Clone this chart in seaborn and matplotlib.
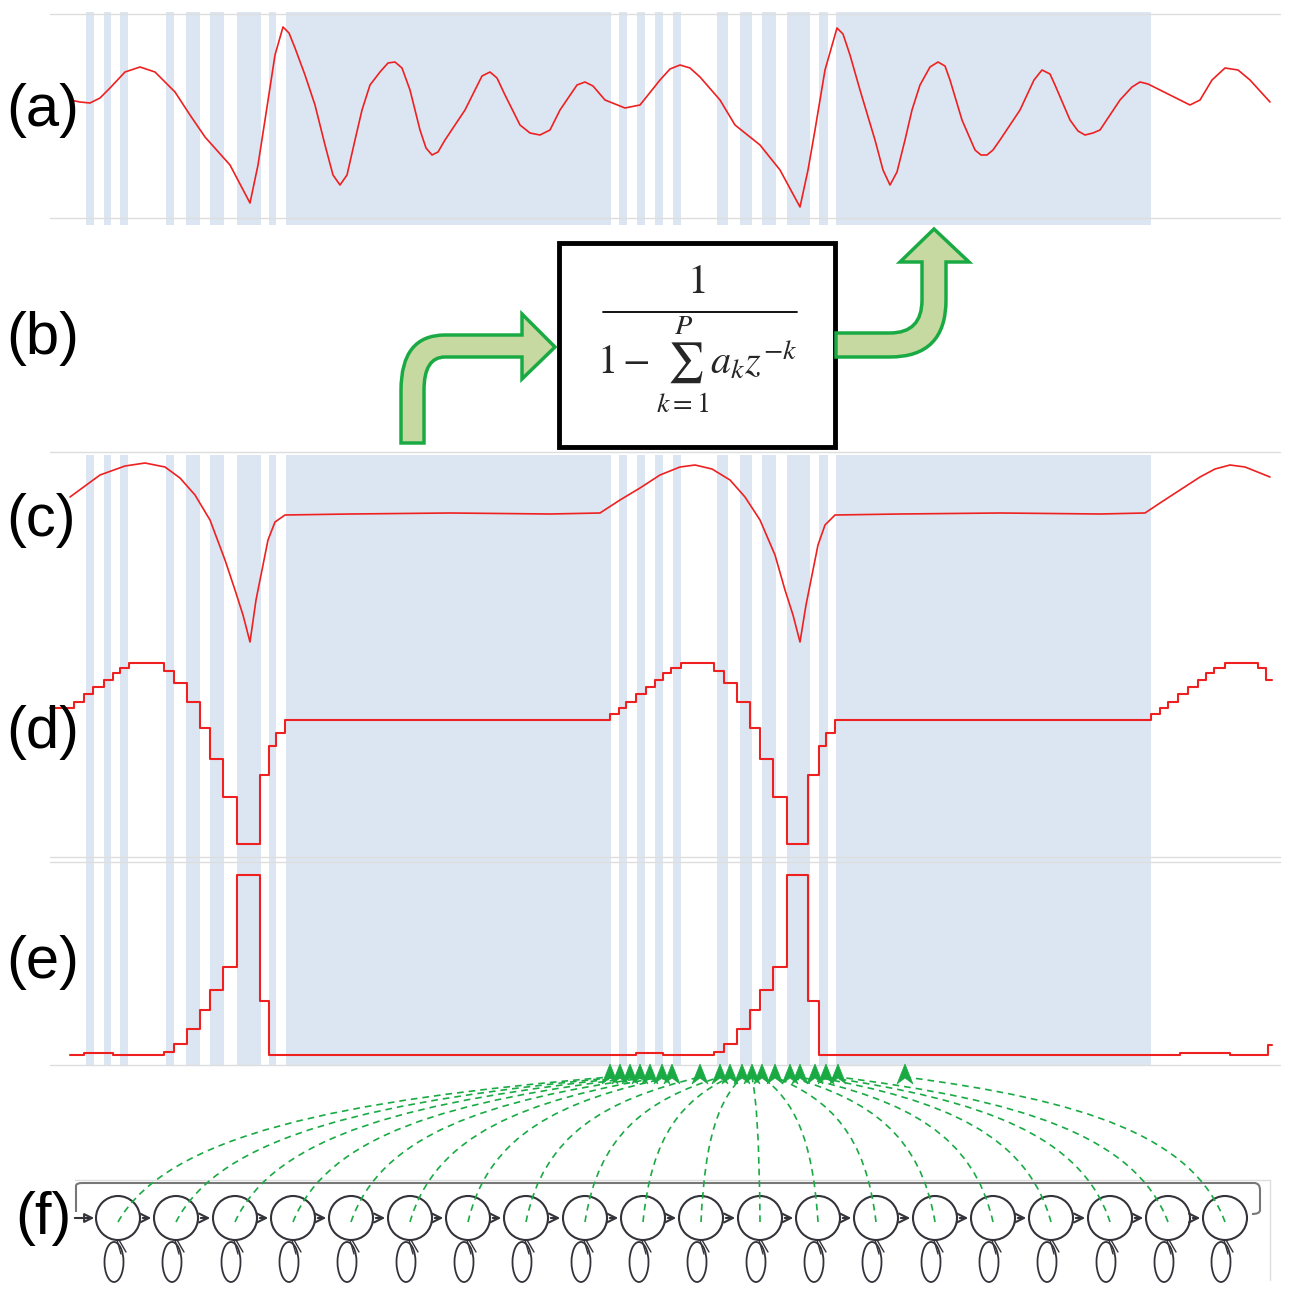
import numpy as np
import pandas as pd
import matplotlib
matplotlib.use("Agg")
import matplotlib.pyplot as plt
import seaborn as sns
from matplotlib.path import Path
from matplotlib.patches import PathPatch, Circle, Ellipse, Polygon, Rectangle

sns.set_theme(style="white")
plt.rcParams['font.family'] = ['Liberation Sans', 'DejaVu Sans']
plt.rcParams['mathtext.fontset'] = 'stix'

# everything below in pixel units (x right, y down)
band_x0 = [86, 104, 120, 166, 186, 210, 237, 269, 286, 619, 637, 655, 673, 717, 740, 762, 787, 819, 836]
band_x1 = [94, 111, 128, 174, 200, 224, 261, 276, 611, 627, 645, 663, 681, 728, 752, 776, 810, 828, 1151]

# (a) speech signal
sig_x = [70, 80, 90, 100, 110, 125, 140, 155, 175, 190, 205, 230, 250, 258, 265, 275, 283, 289, 295,
         305, 315, 325, 333, 340, 347, 355, 362, 370, 380, 388, 395, 402, 410, 420, 426, 432, 438,
         445, 465, 482, 490, 497, 505, 520, 530, 540, 550, 560, 577, 585, 593, 605, 625, 640, 660,
         670, 680, 690, 700, 720, 735, 760, 780, 800, 808, 815, 825, 837, 843, 850, 860, 875, 883,
         890, 897, 905, 912, 920, 930, 938, 945, 950, 962, 975, 981, 987, 993, 1000, 1020, 1034,
         1042, 1050, 1055, 1070, 1078, 1085, 1093, 1100, 1120, 1132, 1140, 1148, 1160, 1190, 1200,
         1212, 1225, 1238, 1250, 1270]
sig_y = [100, 102, 103, 98, 88, 72, 67, 72, 92, 115, 137, 165, 203, 165, 120, 55, 27, 33, 48,
         75, 105, 145, 175, 185, 175, 140, 110, 85, 72, 63, 62, 68, 90, 130, 148, 155, 152,
         140, 110, 76, 72, 78, 95, 125, 133, 135, 130, 110, 85, 82, 86, 100, 108, 105, 80,
         69, 65, 68, 77, 100, 125, 145, 170, 207, 170, 130, 70, 28, 34, 55, 90, 140, 170,
         185, 172, 140, 110, 85, 67, 62, 66, 80, 120, 150, 155, 155, 150, 140, 110, 80,
         70, 74, 85, 120, 131, 135, 133, 130, 100, 87, 82, 84, 90, 105, 100,
         80, 68, 70, 80, 102]

# (c) smoothed envelope
env_x = [70, 100, 125, 145, 165, 180, 195, 210, 225, 235, 243, 250, 256, 262, 268, 275, 285, 350,
         450, 550, 600, 620, 640, 660, 680, 695, 712, 730, 745, 760, 775, 785, 793, 800, 806, 812,
         818, 825, 835, 900, 1000, 1100, 1145, 1160, 1180, 1200, 1215, 1230, 1245, 1270]
env_y = [497, 475, 466, 463, 467, 478, 495, 520, 560, 590, 615, 642, 600, 570, 540, 522, 515, 514,
         513, 514, 513, 500, 488, 475, 467, 465, 469, 480, 497, 520, 555, 590, 615, 642, 605, 575,
         545, 525, 515, 514, 513, 514, 513, 503, 490, 477, 469, 465, 467, 477]

# (d) quantised envelope (steps)
q_x = [50, 74, 84, 93, 104, 113, 120, 129, 164, 174, 187, 200, 210, 223, 237, 260, 269, 276, 285,
       610, 619, 626, 636, 646, 655, 663, 671, 681, 714, 724, 737, 750, 760, 773, 787, 808, 819,
       826, 835, 1151, 1160, 1168, 1178, 1188, 1198, 1206, 1214, 1225, 1258, 1266, 1272]
q_y = [708, 702, 694, 687, 680, 673, 668, 663, 671, 683, 702, 728, 759, 797, 844, 775, 746, 733, 720,
       714, 708, 702, 694, 687, 680, 673, 668, 663, 671, 683, 702, 728, 759, 797, 844, 775, 746,
       733, 720, 714, 708, 702, 694, 687, 680, 673, 668, 663, 668, 680, 680]

# (e) state occupancy (steps)
s_x = [70, 84, 113, 164, 174, 187, 200, 210, 223, 237, 260, 269, 636, 663, 714, 724, 737, 750, 760,
       773, 787, 808, 819, 1180, 1230, 1268, 1272]
s_y = [1055, 1053, 1055, 1052, 1044, 1029, 1010, 990, 967, 875, 1001, 1055, 1053, 1055, 1052, 1044,
       1029, 1010, 990, 967, 875, 1001, 1055, 1053, 1055, 1045, 1045]

# (f) HMM states and the frames they map to
n_states = 20
state_cx = [118, 176, 235, 293, 351, 410, 468, 526, 585, 643, 701, 760, 818, 876, 935, 993, 1051, 1110, 1168, 1225]
target_x = [610, 620, 630, 640, 650, 662, 672, 700, 720, 730, 742, 752, 762, 775, 790, 800, 815, 826, 838, 905]

labels = ['(a)', '(b)', '(c)', '(d)', '(e)', '(f)']
label_x = [6, 6, 6, 6, 6, 15]
label_y = [110, 338, 520, 733, 963, 1218]

fig = plt.figure(figsize=(12.94, 12.94), dpi=100)
ax = fig.add_axes([0, 0, 1, 1])
ax.set_xlim(0, 1294)
ax.set_ylim(1294, 0)
ax.axis('off')

band_col = '#dce6f2'
for x0, x1 in zip(band_x0, band_x1):
    ax.add_patch(Rectangle((x0, 12), x1 - x0, 213, color=band_col, lw=0, zorder=0))
    ax.add_patch(Rectangle((x0, 455), x1 - x0, 610, color=band_col, lw=0, zorder=0))

grey = '#dddddd'
for yy in [14, 218, 452, 857, 862, 1065]:
    ax.plot([50, 1280], [yy, yy], color=grey, lw=1, zorder=0.5)

red = '#ee2020'
sns.lineplot(x=sig_x, y=sig_y, ax=ax, color=red, lw=1.2, sort=False)
sns.lineplot(x=env_x, y=env_y, ax=ax, color=red, lw=1.2, sort=False)
sns.lineplot(x=q_x, y=q_y, ax=ax, color=red, lw=1.5, sort=False, drawstyle='steps-post')
sns.lineplot(x=s_x, y=s_y, ax=ax, color=red, lw=1.5, sort=False, drawstyle='steps-post')

for t, lx, ly in zip(labels, label_x, label_y):
    ax.text(lx, ly, t, fontsize=43, ha='left', va='center', color='black')

# (b) filter box with arrows
ax.add_patch(Rectangle((559, 243), 276, 204, fill=False, ec='black', lw=3.5, zorder=3))
ax.text(698, 283, '1', fontsize=30, ha='center', va='center', family='STIXGeneral')
ax.plot([603, 797], [312, 312], color='black', lw=1.3)
ax.text(697, 365, r'$1-\sum_{k=1}^{P}a_k z^{-k}$', fontsize=29, ha='center', va='center')

arrow_fill = '#c6d9a0'
arrow_edge = '#1aaa44'
left_verts = [(401, 443), (401, 390), (401, 335), (445, 335), (522, 335), (522, 314), (555, 347),
              (522, 379), (522, 357), (445, 357), (424, 357), (424, 390), (424, 443), (401, 443)]
left_codes = [Path.MOVETO, Path.LINETO, Path.CURVE3, Path.CURVE3, Path.LINETO, Path.LINETO, Path.LINETO,
              Path.LINETO, Path.LINETO, Path.LINETO, Path.CURVE3, Path.CURVE3, Path.LINETO, Path.CLOSEPOLY]
ax.add_patch(PathPatch(Path(left_verts, left_codes), fc=arrow_fill, ec=arrow_edge, lw=2.5, zorder=3))
right_verts = [(836, 333), (890, 333), (922, 333), (922, 300), (922, 262), (900, 262), (934, 229),
               (969, 262), (946, 262), (946, 300), (946, 357), (890, 357), (836, 357), (836, 333)]
right_codes = [Path.MOVETO, Path.LINETO, Path.CURVE3, Path.CURVE3, Path.LINETO, Path.LINETO, Path.LINETO,
               Path.LINETO, Path.LINETO, Path.LINETO, Path.CURVE3, Path.CURVE3, Path.LINETO, Path.CLOSEPOLY]
ax.add_patch(PathPatch(Path(right_verts, right_codes), fc=arrow_fill, ec=arrow_edge, lw=2.5, zorder=3))

# (f) left-to-right HMM
gcol = '#33333a'
ax.plot([75, 1270], [1180, 1180], color=grey, lw=1)
ax.plot([1270, 1270], [1180, 1280], color=grey, lw=1)
fb = Path([(76, 1212), (76, 1186), (76, 1183), (82, 1183), (1254, 1183), (1260, 1183), (1260, 1190),
           (1260, 1210), (1260, 1214), (1252, 1214)],
          [Path.MOVETO, Path.LINETO, Path.CURVE3, Path.CURVE3, Path.LINETO, Path.CURVE3, Path.CURVE3,
           Path.LINETO, Path.CURVE3, Path.CURVE3])
ax.add_patch(PathPatch(fb, fill=False, ec='#777777', lw=1.5))
ax.annotate('', xy=(97, 1218), xytext=(72, 1218),
            arrowprops=dict(arrowstyle='-|>', color=gcol, lw=1.5, mutation_scale=14, fill=False))
r = 22
for i, cx in enumerate(state_cx):
    ax.add_patch(Circle((cx, 1218), r, fill=False, ec=gcol, lw=1.5, zorder=4))
    ax.add_patch(Ellipse((cx - 4, 1262), 19, 40, fill=False, ec=gcol, lw=1.3))
    ax.plot([cx + 1, cx + 8], [1240, 1252], color=gcol, lw=1)
    ax.plot([cx - 1, cx + 3], [1240, 1254], color=gcol, lw=1)
    if i < n_states - 1:
        ax.annotate('', xy=(state_cx[i + 1] - r, 1218), xytext=(cx + r, 1218),
                    arrowprops=dict(arrowstyle='->', color=gcol, lw=1.5, mutation_scale=16))

green = '#1aaa44'
for cx, tx in zip(state_cx, target_x):
    d = tx - cx
    pts = [(cx, 1222), (cx + 0.1 * d, 1135), (tx - 0.55 * d, 1100), (tx, 1077)]
    p = Path(pts, [Path.MOVETO, Path.CURVE4, Path.CURVE4, Path.CURVE4])
    ax.add_patch(PathPatch(p, fill=False, ec=green, lw=1.2, ls=(0, (4, 3)), zorder=5))
    ax.add_patch(Polygon([(tx - 8, 1084), (tx, 1064), (tx + 8, 1084), (tx, 1078)], closed=True,
                         fc=green, ec=green, lw=0.5, zorder=5))

fig.savefig('out.png', dpi=100)
